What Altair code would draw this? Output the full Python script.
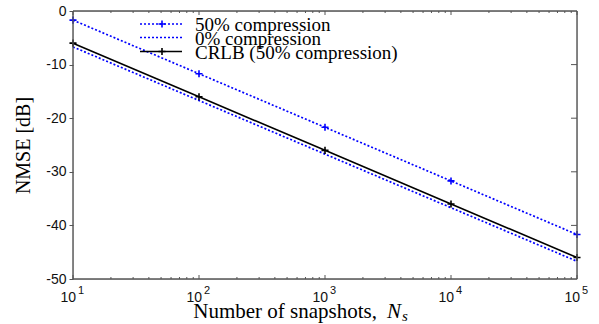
import altair as alt
import pandas as pd

# ---- data ----
snapshots = [10, 100, 1000, 10000, 100000]
nmse_50 = [-1.7, -11.7, -21.7, -31.7, -41.7]
nmse_0 = [-6.7, -16.7, -26.7, -36.7, -46.7]
crlb_50 = [-6.0, -16.0, -26.0, -36.0, -46.0]
series_labels = ["50% compression", "0% compression", "CRLB (50% compression)"]
x_major = [10, 100, 1000, 10000, 100000]
x_exp = ["1", "2", "3", "4", "5"]
y_major = [0, -10, -20, -30, -40, -50]
y_inner = [-10, -20, -30, -40]
x_minor = [m * 10 ** k for k in range(1, 5) for m in range(2, 10)]

W, H = 504, 268
AX = "#555555"
BLUE = "#0000ff"
PLUS = "M-1,0L1,0M0,-1L0,1"

xscale = alt.Scale(type="log", domain=[10, 100000])
yscale = alt.Scale(domain=[-50, 0], nice=False, zero=False)
yaxis = alt.Axis(
    values=y_major,
    labelExpr="'' + datum.value",
    title="NMSE [dB]",
    titleFont="Liberation Serif",
    titleFontSize=20,
    titleFontWeight="normal",
    titleColor="black",
    titlePadding=12,
    labelFont="Liberation Sans",
    labelFontSize=14,
    labelColor="#111111",
    labelPadding=3,
    tickSize=4,
    tickColor=AX,
    domain=False,
    grid=False,
)

df = pd.DataFrame({
    "Ns": snapshots * 3,
    "nmse": nmse_50 + nmse_0 + crlb_50,
    "series": [series_labels[0]] * 5 + [series_labels[1]] * 5 + [series_labels[2]] * 5,
})

X = alt.X("Ns:Q", scale=xscale, axis=None)
Y = alt.Y("nmse:Q", scale=yscale, axis=yaxis)

base = alt.Chart(df)
s50 = base.transform_filter(alt.datum.series == series_labels[0])
s0 = base.transform_filter(alt.datum.series == series_labels[1])
scr = base.transform_filter(alt.datum.series == series_labels[2])

line50 = s50.mark_line(color=BLUE, strokeDash=[2, 2], strokeWidth=1.7).encode(x=X, y=Y)
pts50 = s50.mark_point(shape=PLUS, filled=False, color=BLUE, size=50, strokeWidth=1.6, opacity=1).encode(x=X, y=Y)
line0 = s0.mark_line(color=BLUE, strokeDash=[2, 2], strokeWidth=1.7).encode(x=X, y=Y)
linecr = scr.mark_line(color="black", strokeWidth=1.6).encode(x=X, y=Y)
ptscr = scr.mark_point(shape=PLUS, filled=False, color="black", size=50, strokeWidth=1.6, opacity=1).encode(x=X, y=Y)

one = alt.Chart(pd.DataFrame({"a": [0]}))

# ---- frame ----
frame = [
    one.mark_rule(color=AX, strokeWidth=1.4).encode(x=alt.value(0), y=alt.value(0), y2=alt.value(H)),
    one.mark_rule(color=AX, strokeWidth=1.4).encode(x=alt.value(W), y=alt.value(0), y2=alt.value(H)),
    one.mark_rule(color=AX, strokeWidth=1.4).encode(x=alt.value(0), x2=alt.value(W), y=alt.value(0)),
    one.mark_rule(color=AX, strokeWidth=1.4).encode(x=alt.value(0), x2=alt.value(W), y=alt.value(H)),
]

# ---- inward ticks ----
xt_major = pd.DataFrame({"t": x_major})
xt_minor = pd.DataFrame({"t": x_minor})
XT = alt.X("t:Q", scale=xscale, axis=None)
ticks = [
    alt.Chart(xt_major).mark_rule(color=AX, strokeWidth=1).encode(x=XT, y=alt.value(H), y2=alt.value(H - 4)),
    alt.Chart(xt_minor).mark_rule(color=AX, strokeWidth=1).encode(x=XT, y=alt.value(H), y2=alt.value(H - 2)),
    alt.Chart(xt_major).mark_rule(color=AX, strokeWidth=1).encode(x=XT, y=alt.value(0), y2=alt.value(4)),
    alt.Chart(xt_minor).mark_rule(color=AX, strokeWidth=1).encode(x=XT, y=alt.value(0), y2=alt.value(2)),
    alt.Chart(pd.DataFrame({"v": y_inner})).mark_rule(color=AX, strokeWidth=1).encode(
        y=alt.Y("v:Q", scale=yscale, axis=yaxis), x=alt.value(W), x2=alt.value(W - 6)
    ),
]

# ---- x tick labels 10^k ----
xl = pd.DataFrame({"t": x_major, "e": x_exp})
xlab_base = alt.Chart(xl).mark_text(
    text="10", font="Liberation Sans", fontSize=14, color="#111111", align="right", baseline="alphabetic", dx=3
).encode(x=XT, y=alt.value(H + 23))
xlab_exp = alt.Chart(xl).mark_text(
    font="Liberation Sans", fontSize=11, color="#111111", align="left", baseline="alphabetic", dx=5
).encode(x=XT, y=alt.value(H + 15), text="e:N")

# ---- x title with italic N_s ----
xt1 = one.mark_text(text="Number of snapshots,", font="Liberation Serif", fontSize=21, align="right",
                    baseline="alphabetic", color="black").encode(x=alt.value(304), y=alt.value(307))
xt2 = one.mark_text(text="N", font="Liberation Serif", fontStyle="italic", fontSize=21, align="left",
                    baseline="alphabetic", color="black").encode(x=alt.value(314), y=alt.value(307))
xt3 = one.mark_text(text="s", font="Liberation Serif", fontStyle="italic", fontSize=15, align="left",
                    baseline="alphabetic", color="black").encode(x=alt.value(329), y=alt.value(310))

# ---- legend ----
rows_y = [13, 26.5, 40.5]
leg = []
for i, lab in enumerate(series_labels):
    col = BLUE if i < 2 else "black"
    dash = [2, 2] if i < 2 else [1, 0]
    leg.append(one.mark_rule(color=col, strokeDash=dash, strokeWidth=1.7).encode(
        x=alt.value(67), x2=alt.value(109), y=alt.value(rows_y[i])))
    if i != 1:
        leg.append(one.mark_point(shape=PLUS, filled=False, color=col, size=50, strokeWidth=1.6, opacity=1).encode(
            x=alt.value(89), y=alt.value(rows_y[i])))
    leg.append(one.mark_text(text=lab, font="Liberation Serif", fontSize=19, align="left",
                             baseline="middle", color="black").encode(x=alt.value(122), y=alt.value(rows_y[i] + 1)))

chart = alt.layer(
    linecr, line50, line0, pts50, ptscr, *frame, *ticks, xlab_base, xlab_exp, xt1, xt2, xt3, *leg
).properties(
    width=W, height=H,
    autosize=alt.AutoSizeParams(type="none"),
    padding={"left": 73, "top": 11, "right": 22, "bottom": 45},
).configure_view(
    strokeWidth=0
).configure(background="white")

chart.save("out.html", embed_options={"renderer": "svg", "actions": False})
